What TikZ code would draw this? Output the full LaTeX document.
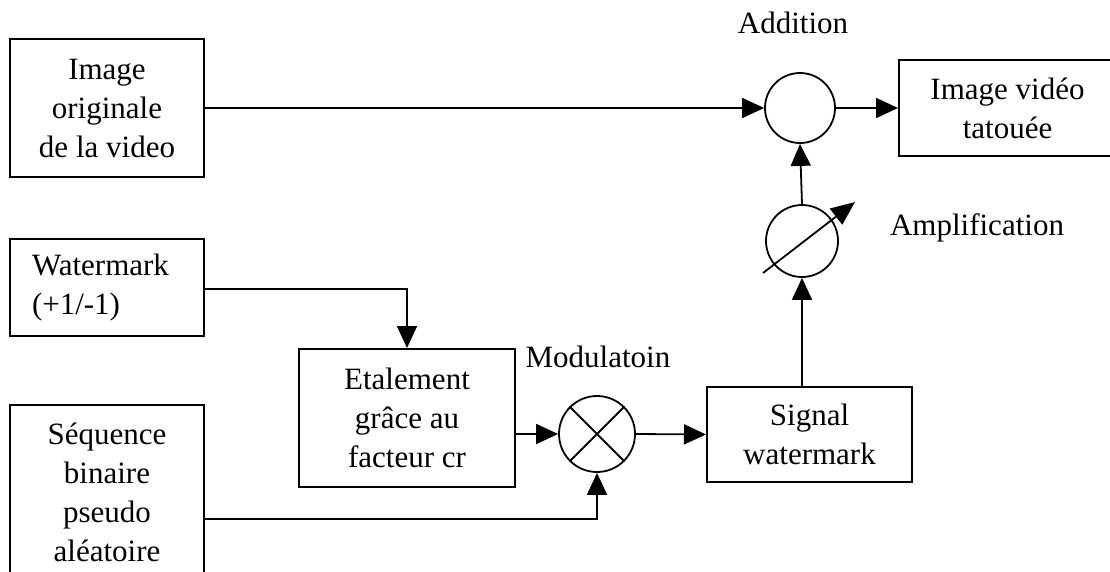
\documentclass[tikz,border=0pt]{standalone}
\usepackage{fontspec}
\setmainfont{Liberation Serif}
\usetikzlibrary{arrows.meta,positioning}

\tikzset{
  every node/.style={font=\fontsize{31}{39}\selectfont},
  block/.style={draw, line width=2pt, align=center, inner sep=0pt},
  opcircle/.style={draw, circle, line width=1.8pt, inner sep=0pt},
  flow/.style={line width=1.8pt, -{Triangle[length=22pt,width=20pt]}},
  link/.style={line width=1.8pt},
  caption/.style={inner sep=0pt}
}

\begin{document}
\begin{tikzpicture}[x=1pt,y=1pt]
  \clip (0,0) rectangle (1110,-571);
  \fill[white] (0,0) rectangle (1110,-571);

  % input blocks
  \node[block, minimum width=194pt, minimum height=138pt] (orig) at (107,-108)
    {Image\\originale\\de la video};
  \node[block, minimum width=194pt, minimum height=97pt, align=left,
        text width=150pt] (wm) at (107,-287.5)
    {Watermark\\(+1/-1)};
  \node[block, minimum width=194pt, minimum height=175pt] (seq) at (107,-492.5)
    {Séquence\\binaire\\pseudo\\aléatoire};

  % processing blocks
  \node[block, minimum width=216pt, minimum height=138pt] (eta) at (407,-418)
    {Etalement\\grâce au\\facteur cr};
  \node[opcircle, minimum size=76pt] (mult) at (597,-434) {};
  \draw[link] (mult.north west) -- (mult.south east)
              (mult.north east) -- (mult.south west);
  \node[block, minimum width=205pt, minimum height=95pt] (sig) at (809.5,-434.5)
    {Signal\\watermark};
  \node[opcircle, minimum size=72pt] (amp) at (802,-241) {};
  \node[opcircle, minimum size=70pt] (add) at (800,-108) {};
  \node[block, minimum width=217pt, minimum height=96pt] (out) at (1007.5,-108)
    {Image vidéo\\tatouée};

  % variable gain arrow across the amplifier
  \draw[line width=1.8pt, -{Triangle[length=24pt,width=20pt]}]
    ([shift={(-39pt,-32pt)}]amp.center) -- ([shift={(53pt,39pt)}]amp.center);

  % labels
  \node[caption] (laddition) at (793,-23) {Addition};
  \node[caption] (lampli) at (977,-228) {Amplification};
  \node[caption] (lmod) at (598,-357) {Modulatoin};

  % connections
  \draw[flow] (orig.east) -- (add.west);
  \draw[flow] (add.east) -- (out.west);
  \draw[flow] (amp.north) -- (add.south);
  \draw[flow] (amp.south |- sig.north) -- (amp.south);
  \draw[flow] ([yshift=-1.5pt]wm.east) -| (eta.north);
  \draw[flow] (eta.east |- mult.west) -- (mult.west);
  \draw[flow] (mult.east) -- (sig.west);
  \draw[flow] ([yshift=-26.5pt]seq.east) -| (mult.south);
\end{tikzpicture}
\end{document}
